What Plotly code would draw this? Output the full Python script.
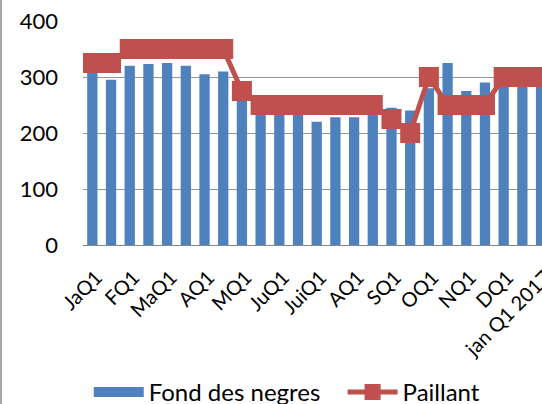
import plotly.graph_objects as go

categories = ["JaQ1", "JaQ2", "FQ1", "FQ2", "MaQ1", "MaQ2", "AQ1", "AQ2", "MQ1", "MQ2",
              "JuQ1", "JuQ2", "JuiQ1", "JuiQ2", "AQ1", "AQ2", "SQ1", "SQ2", "OQ1", "OQ2",
              "NQ1", "NQ2", "DQ1", "DQ2", "jan Q1 2017"]
fond_des_negres = [310, 295, 320, 323, 325, 320, 305, 310, 265, 248, 242, 242, 220, 228, 228,
                   240, 245, 240, 280, 325, 275, 290, 290, 290, 295]
paillant = [325, 325, 350, 350, 350, 350, 350, 350, 275, 250, 250, 250, 250, 250, 250,
            250, 225, 200, 300, 250, 250, 250, 300, 300, 300]
tick_index = list(range(0, len(categories), 2))
tick_labels = [categories[i] for i in tick_index]
y_ticks = [0, 100, 200, 300, 400]

x = list(range(len(categories)))
BLUE = "#4F81BD"
RED = "#C0504D"
FONT = "Lato"

fig = go.Figure()
fig.add_trace(go.Bar(x=x, y=fond_des_negres, marker=dict(color=BLUE, line=dict(width=0)),
                     name="Fond des negres", showlegend=False))
# legend proxy for the bar series (wide rectangle like the original)
fig.add_trace(go.Scatter(x=[None], y=[None], mode="lines", line=dict(color=BLUE, width=14),
                         name="Fond des negres", legend="legend"))
fig.add_trace(go.Scatter(x=x, y=paillant, mode="lines+markers", name="Paillant",
                         line=dict(color=RED, width=5), legend="legend2",
                         marker=dict(symbol="square", size=20, color=RED,
                                     line=dict(width=0))))

legend_common = dict(orientation="h", xanchor="left", y=-0.558, yanchor="top",
                     font=dict(size=24, family=FONT), itemwidth=50,
                     bgcolor="rgba(0,0,0,0)")

fig.update_layout(
    width=542, height=404,
    margin=dict(l=83, r=0, t=21, b=159, autoexpand=False),
    paper_bgcolor="white", plot_bgcolor="white",
    font=dict(family=FONT, color="#000000"),
    bargap=0.45,
    showlegend=True,
    legend=dict(x=0.0125, **legend_common),
    legend2=dict(x=0.5656, **legend_common),
    xaxis=dict(range=[-0.5, 24.05], tickmode="array", tickvals=tick_index, ticktext=tick_labels,
               tickangle=-45, tickfont=dict(size=20, family=FONT), showgrid=False,
               showline=True, linecolor="#868686", linewidth=1, ticks="", zeroline=False,
               automargin=False, ticklabeloverflow="allow", ticklabelstandoff=12,
               ticklabelshift=4),
    yaxis=dict(range=[0, 400], tickmode="array", tickvals=y_ticks,
               tickfont=dict(size=22, family=FONT), showgrid=True, gridcolor="#959595",
               gridwidth=1, zeroline=False, showline=False, ticks="", ticklabelstandoff=24,
               automargin=False),
    shapes=[dict(type="line", xref="paper", yref="paper", x0=-0.1786, x1=-0.1786,
                 y0=-0.71, y1=1.1, line=dict(color="#888888", width=1.5))],
)

fig.write_html("out.html", config={"displayModeBar": False},
               post_script="document.body.style.margin='0';document.body.style.overflow='hidden';")
